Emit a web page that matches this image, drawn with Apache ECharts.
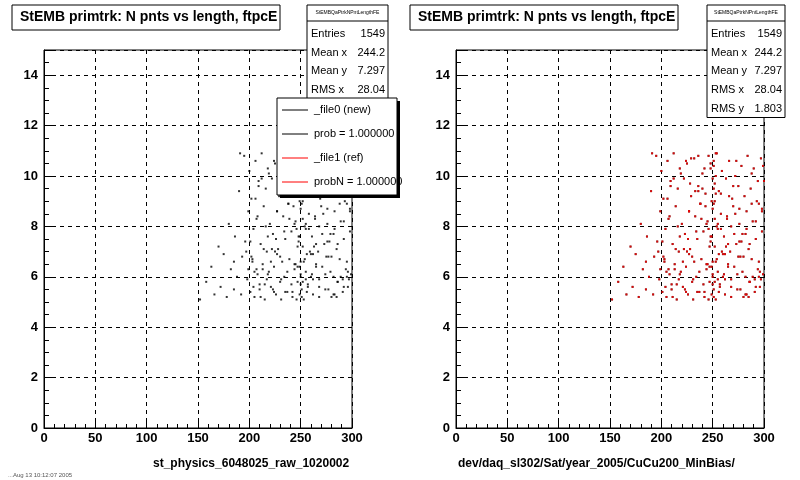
<!DOCTYPE html>
<html><head><meta charset="utf-8">
<script src="https://cdn.jsdelivr.net/npm/echarts@6/dist/echarts.min.js"></script>
<style>html,body{margin:0;background:#fff}#c{width:800px;height:480px}</style>
</head><body><div id="c"></div>
<script>
var lenX = [152,158,163,166,170,172,175,178,180,182,185,186,188,190,192,193,195,196,198,199,
  200,201,202,203,204,205,206,207,208,209,210,211,212,213,214,215,216,217,218,219,
  220,221,222,223,224,225,226,227,228,229,230,231,232,233,234,235,236,237,238,239,
  240,241,242,243,244,245,246,247,248,249,250,250,251,251,252,252,253,253,254,254,
  255,255,256,257,258,259,260,261,262,263,264,265,266,267,268,269,270,271,272,273,
  274,275,276,277,278,279,280,281,282,283,284,285,286,287,288,289,290,291,292,293,
  294,295,296,297,298,299,300,205,215,225,235,245,255,265,275,285,295,208,218,228,
  238,248,258,268,278,288,298,212,222,232,242,252,262,272,282,292,197,203,246,249,
  251,247,253,243,257,233,263,227,273,283,213,223,244,256,266,276,286,296,239,261,
  201,204,207,211,214,217,221,224,227,231,234,237,241,244,247,249,250,251,252,254,
  256,259,262,265,268,271,274,277,280,283,286,289,292,295,298,206,216,226,236,246,
  250,251,249,252,248,253,255,258,264,270,276,282,288,294,299,209,219,229,240,250,
  199,202,210,218,230,242,250,251,260,268,279,291,297,185,191,224,236,248,253,262];
var nPnts = [5.1,5.8,6.4,5.3,7.2,5.6,6.9,5.2,8.1,6.3,5.5,7.6,6.0,9.4,5.3,6.8,10.8,7.4,5.9,8.6,
  10.2,5.4,9.1,6.6,7.9,5.2,10.6,8.3,6.1,9.8,5.7,7.3,10.9,6.5,8.8,5.1,9.5,7.0,10.3,6.2,
  8.1,5.6,9.9,7.7,6.4,10.5,5.3,8.6,7.1,9.2,6.8,5.9,10.7,8.4,6.0,7.5,9.6,5.4,8.9,6.7,
  10.1,7.8,5.2,9.3,6.3,8.2,10.8,5.8,7.4,9.0,6.1,8.7,5.5,10.4,7.2,9.7,6.6,5.1,8.0,10.9,
  7.9,6.2,9.4,5.7,8.5,10.2,6.9,7.6,5.3,9.9,8.3,6.5,10.6,7.0,5.9,9.1,8.8,6.4,10.0,7.3,
  5.5,9.6,8.1,6.8,10.4,7.7,5.2,9.2,6.0,8.6,10.8,7.1,5.8,9.5,6.7,8.2,10.3,5.4,7.5,9.0,
  6.3,8.9,5.6,10.7,7.8,6.1,9.8,6.2,5.7,7.0,5.4,6.5,5.9,7.3,6.8,5.2,6.0,8.4,7.6,9.7,
  8.9,10.5,9.3,8.0,7.4,10.1,8.7,9.9,7.1,6.6,10.3,9.0,6.9,8.5,5.3,8.2,7.0,6.7,5.1,
  7.6,9.5,6.4,10.0,8.8,5.6,9.4,7.2,8.6,10.6,7.9,6.3,5.5,8.1,6.9,9.2,7.4,5.8,6.2,8.3,
  6.1,7.4,5.6,6.3,5.2,7.1,5.9,6.6,5.4,6.9,5.1,7.8,6.2,5.7,6.5,7.2,5.3,6.0,8.9,5.8,
  6.7,5.4,7.0,5.9,6.4,5.2,7.7,6.1,5.5,6.8,5.3,7.3,6.0,5.6,6.6,8.6,9.1,8.0,7.5,9.4,
  7.9,9.9,10.6,6.4,8.3,7.6,9.3,8.1,7.9,8.4,9.6,8.7,7.7,8.9,9.8,10.4,9.6,10.1,10.7,9.5,
  5.7,6.3,6.8,5.5,6.1,5.8,5.4,6.6,5.2,6.0,5.6,6.2,5.9,5.9,6.6,10.9,10.6,10.8,10.3,10.9];
var pts = lenX.map(function (x, i) { return [x, nPnts[i]]; });

var statNames = ['Entries', 'Mean x', 'Mean y', 'RMS x', 'RMS y'];
var statVals = ['1549', '244.2', '7.297', '28.04', '1.803'];
var legendTexts = ['_file0 (new)', 'prob = 1.000000', '_file1 (ref)', 'probN = 1.000000'];
var legendColors = ['#000', '#000', '#f00', '#f00'];
var titleText = 'StEMB primtrk: N pnts vs length, ftpcE';
var xTitles = ['st_physics_6048025_raw_1020002', 'dev/daq_sl302/Sat/year_2005/CuCu200_MinBias/'];

var font = 'Liberation Sans';
var chart = echarts.init(document.getElementById('c'));

function grid(left) { return {left: left, top: 50, width: 308, height: 378, show: true, borderColor: '#000', borderWidth: 1}; }
function xAx(i) {
  return {gridIndex: i, type: 'value', min: 0, max: 300, interval: 50,
    axisLine: {lineStyle: {color: '#000'}}, axisTick: {length: -7, lineStyle: {color: '#000'}},
    minorTick: {show: true, splitNumber: 5, length: -4, lineStyle: {color: '#000'}},
    axisLabel: {color: '#000', fontFamily: font, fontWeight: 'bold', fontSize: 13, margin: 4},
    splitLine: {lineStyle: {color: '#000', type: [4, 4]}}};
}
function yAx(i) {
  return {gridIndex: i, type: 'value', min: 0, max: 15, interval: 2,
    axisLine: {lineStyle: {color: '#000'}}, axisTick: {length: -9, lineStyle: {color: '#000'}},
    minorTick: {show: true, splitNumber: 4, length: -5, lineStyle: {color: '#000'}},
    axisLabel: {color: '#000', fontFamily: font, fontWeight: 'bold', fontSize: 13, margin: 6,
      formatter: function (v) { return v > 14 ? '' : v; }},
    splitLine: {lineStyle: {color: '#000', type: [4, 4]}}};
}

var zTop = 100;
function textBox(x, y, w, h, children, shadow) {
  var els = [];
  if (shadow) els.push({type: 'rect', z: zTop++, shape: {x: x + 3, y: y + 3, width: w, height: h}, style: {fill: '#000'}});
  els.push({type: 'rect', z: zTop++, shape: {x: x, y: y, width: w, height: h}, style: {fill: '#fff', stroke: '#000', lineWidth: 1}});
  children.forEach(function (c) { c.z = zTop++; });
  return els.concat(children);
}
function t(x, y, s, opt) {
  return {type: 'text', x: x, y: y, style: Object.assign({text: s, fill: '#000', fontFamily: font, fontSize: 11, textVerticalAlign: 'middle'}, opt || {})};
}
function statsBox(x, w, rows) {
  var kids = [t(x + w / 2, 13, 'StEMBQaPtrkNPntLengthFE', {fontSize: 5, textAlign: 'center'})];
  kids.push({type: 'line', shape: {x1: x, y1: 21, x2: x + w, y2: 21}, style: {stroke: '#000'}});
  for (var i = 0; i < rows; i++) {
    kids.push(t(x + 4, 34 + i * 18.7, statNames[i]));
    kids.push(t(x + w - 3, 34 + i * 18.7, statVals[i], {textAlign: 'right'}));
  }
  return textBox(x, 5, w, 19 + rows * 18.7, kids);
}
function titleBox(x) {
  return textBox(x, 5, 268, 25, [t(x + 8, 17, titleText, {fontSize: 14, fontWeight: 'bold'})]);
}

var legendKids = [];
legendTexts.forEach(function (s, i) {
  var yy = 110 + i * 24;
  legendKids.push({type: 'line', shape: {x1: 282, y1: yy, x2: 308, y2: yy}, style: {stroke: legendColors[i], lineWidth: 1}});
  legendKids.push(t(314, yy, s));
});

var gfx = [].concat(
  titleBox(12), titleBox(410),
  statsBox(307, 81, 4), statsBox(707, 78, 5),
  textBox(277, 98, 120, 97, legendKids, true),
  [t(153, 464, xTitles[0], {fontSize: 12, fontWeight: 'bold', textAlign: 'left'}),
   t(458, 464, xTitles[1], {fontSize: 12, fontWeight: 'bold', textAlign: 'left'}),
   t(8, 475, '...Aug 13 10:12:07 2005', {fontSize: 6, fill: '#555'})]
);

chart.setOption({
  animation: false,
  grid: [grid(44), grid(456)],
  xAxis: [xAx(0), xAx(1)],
  yAxis: [yAx(0), yAx(1)],
  series: [
    {type: 'scatter', xAxisIndex: 0, yAxisIndex: 0, data: pts, symbol: 'rect', symbolSize: 2, itemStyle: {color: '#000'}},
    {type: 'scatter', xAxisIndex: 1, yAxisIndex: 1, data: pts, symbol: 'rect', symbolSize: 2, itemStyle: {color: '#000'}},
    {type: 'scatter', xAxisIndex: 1, yAxisIndex: 1, data: pts, symbol: 'rect', symbolSize: 2, itemStyle: {color: '#f00'}}
  ],
  graphic: {elements: gfx}
});
</script></body></html>
